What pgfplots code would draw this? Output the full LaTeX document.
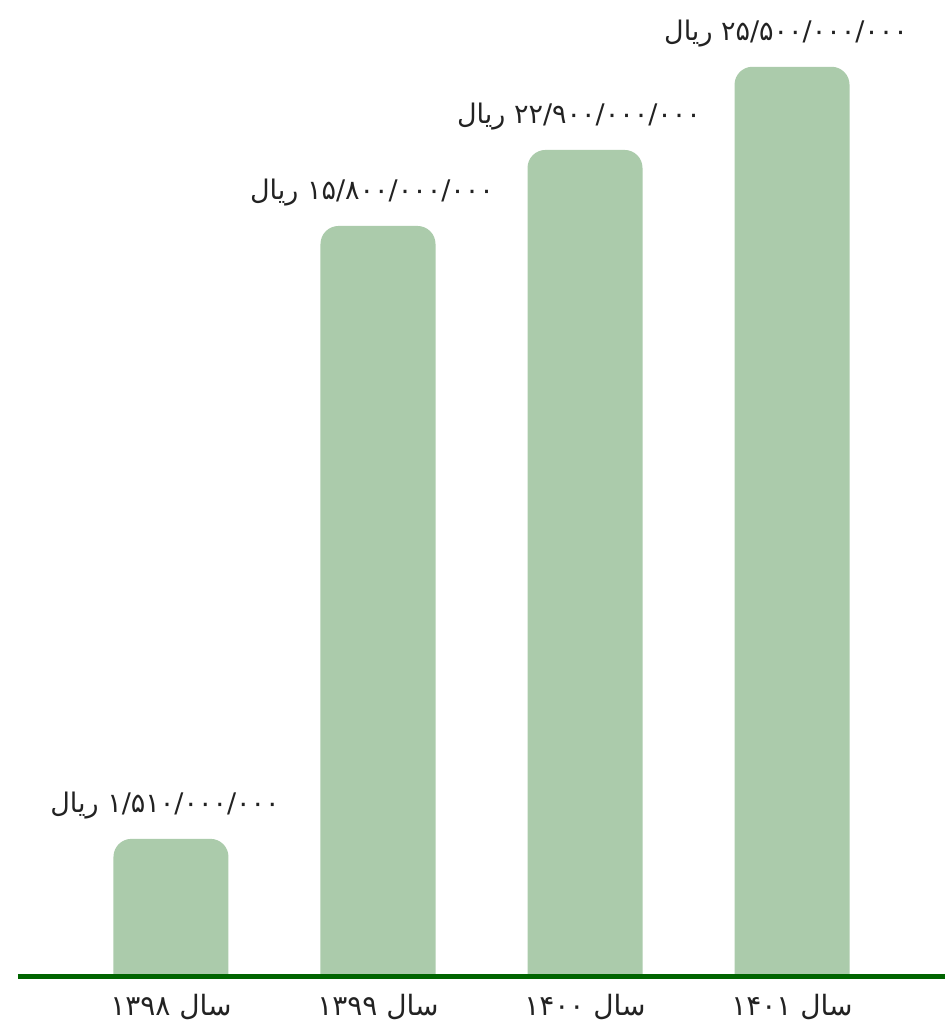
\documentclass[border=0pt]{standalone}
\usepackage{fontspec}
\usepackage{pgfplots}
\pgfplotsset{compat=1.18}
\TeXXeTstate=1
\newfontfamily\fa[Script=Arabic]{DejaVu Sans}
\definecolor{barfill}{RGB}{171,203,171}
\definecolor{baseline}{RGB}{0,100,0}
\definecolor{txt}{RGB}{34,34,34}
% value label: number on the right, "ریال" on the left
\newcommand\rial[1]{\fa\beginR\beginL #1\endL{} ریال\endR}
\newcommand\sal[1]{\fa\beginR سال \beginL #1\endL{}\endR}
\pgfplotsset{common/.style={
    scale only axis, width=463.5pt,
    xmin=-0.739, xmax=3.739}}

\begin{document}
\begin{tikzpicture}
\useasboundingbox (0,0) rectangle (475pt,514.5pt);
% bars: drawn 0.6 units below the baseline so that only their tops are rounded
\begin{scope}
\clip (0,26pt) rectangle (475pt,514.5pt);
\begin{axis}[common,
    at={(9pt,15.29pt)}, anchor=south west,
    height=499.2pt,
    ymin=0, ymax=27.97,
    axis lines=none,
    clip=false,
  ]
\addplot[ybar, bar shift=0pt, bar width=57.5pt, fill=barfill, draw=none,
    rounded corners=9pt,
    y filter/.expression={y+0.6},
    point meta=explicit symbolic,
    nodes near coords={\rial{\pgfplotspointmeta}},
    nodes near coords style={anchor=base, yshift=13pt, xshift=-3pt, text=txt,
        font=\fontsize{13.5}{16}\selectfont}]
  coordinates {
    (0,3.87)  [۱/۵۱۰/۰۰۰/۰۰۰]
    (1,21.04) [۱۵/۸۰۰/۰۰۰/۰۰۰]
    (2,23.17) [۲۲/۹۰۰/۰۰۰/۰۰۰]
    (3,25.5)  [۲۵/۵۰۰/۰۰۰/۰۰۰]
  };
\end{axis}
\end{scope}
% baseline and category labels
\begin{axis}[common,
    at={(9pt,26pt)}, anchor=south west,
    height=488.5pt,
    ymin=0, ymax=1,
    axis x line=bottom,
    axis y line=none,
    x axis line style={draw=baseline, line width=2.5pt, -},
    xtick={0,1,2,3},
    xticklabels={\sal{۱۳۹۸},\sal{۱۳۹۹},\sal{۱۴۰۰},\sal{۱۴۰۱}},
    major tick length=0pt,
    xticklabel style={anchor=center, yshift=-15pt, text=txt,
        font=\fontsize{14}{17}\selectfont},
  ]
\end{axis}
\end{tikzpicture}
\end{document}
